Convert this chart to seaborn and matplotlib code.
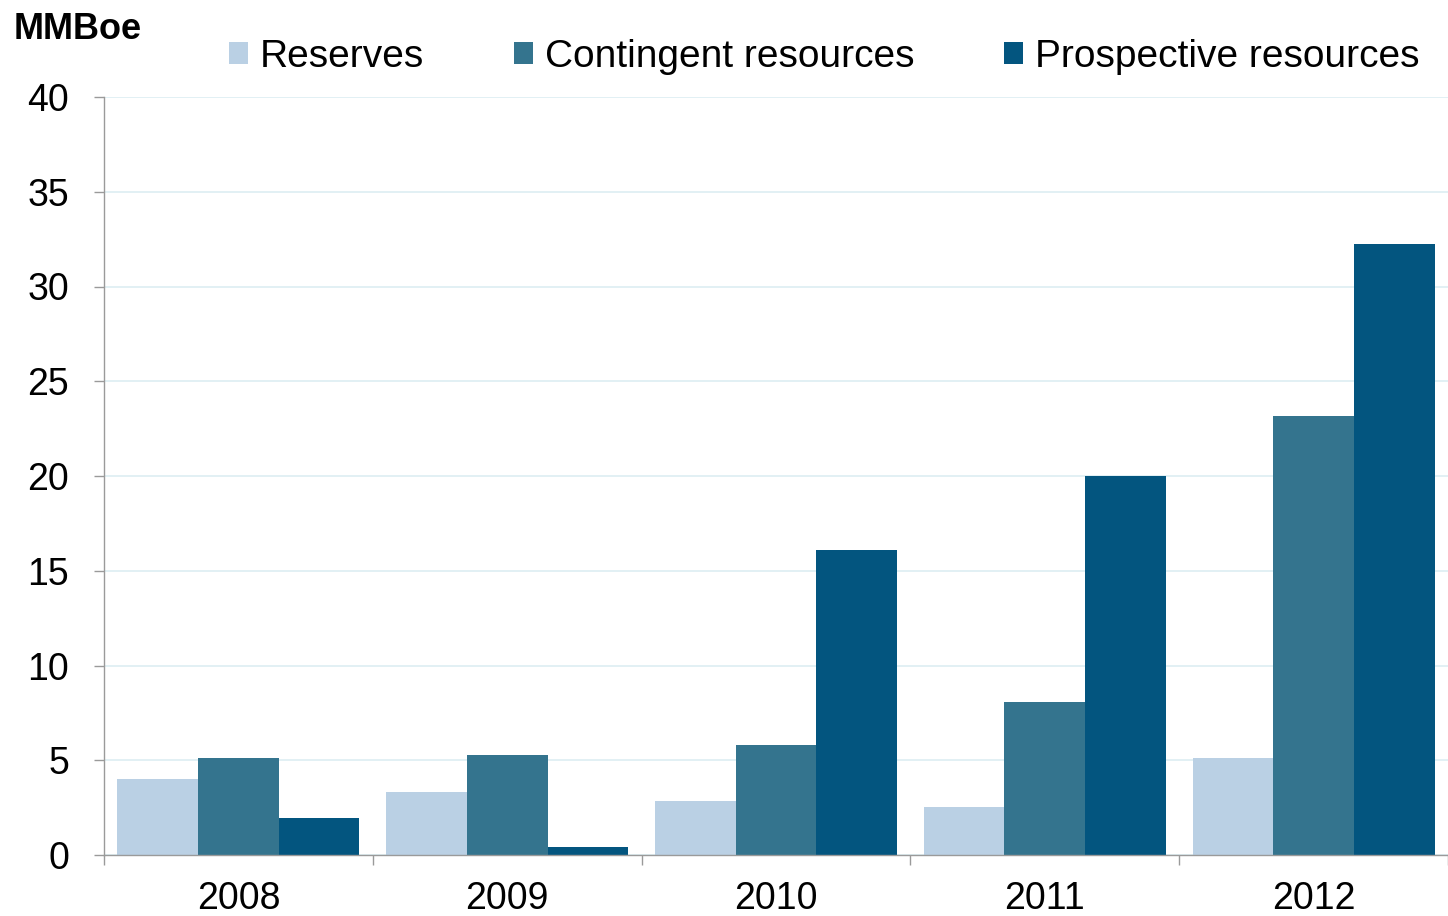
import numpy as np
import pandas as pd
import matplotlib
matplotlib.use("Agg")
import matplotlib.pyplot as plt
import seaborn as sns
from matplotlib.ticker import FixedLocator

# ---- data ----
years = ["2008", "2009", "2010", "2011", "2012"]
series = ["Reserves", "Contingent resources", "Prospective resources"]
reserves = [4.0, 3.35, 2.85, 2.55, 5.1]
contingent = [5.1, 5.3, 5.8, 8.1, 23.15]
prospective = [1.95, 0.4, 16.1, 20.0, 32.25]
colors = ["#BAD0E4", "#34748E", "#03557F"]
yticks = [0, 5, 10, 15, 20, 25, 30, 35, 40]
unit_label = "MMBoe"

df = pd.DataFrame({
    "Year": years * 3,
    "Series": np.repeat(series, len(years)),
    "Value": reserves + contingent + prospective,
})

sns.set_theme(style="white")
plt.rcParams["font.family"] = ["Liberation Sans", "DejaVu Sans"]
plt.rcParams["text.color"] = "black"
plt.rcParams["xtick.color"] = "black"
plt.rcParams["ytick.color"] = "black"

W, H = 1448, 916
fig = plt.figure(figsize=(W / 100, H / 100), dpi=100)
ax = fig.add_axes([104 / W, (H - 855) / H, (W - 104) / W, (855 - 97) / H])

sns.barplot(data=df, x="Year", y="Value", hue="Series", hue_order=series,
            palette=colors, width=0.9, gap=0, linewidth=0, saturation=1,
            ax=ax)

ax.set_xlim(-0.5, len(years) - 0.5)
ax.set_ylim(0, 40)
ax.set_xlabel("")
ax.set_ylabel("")
ax.set_yticks(yticks)
ax.set_yticklabels([str(t) for t in yticks])

ax.yaxis.grid(True, color="#DDEEF2", linewidth=1.2)
ax.xaxis.grid(False)
ax.set_axisbelow(True)

for s in ["top", "right"]:
    ax.spines[s].set_visible(False)
for s in ["left", "bottom"]:
    ax.spines[s].set_color("#9a9a9a")
    ax.spines[s].set_linewidth(1.0)

ax.tick_params(axis="y", which="major", length=7.2, width=1, color="#9a9a9a",
               pad=18, labelsize=27, left=True)
ax.tick_params(axis="x", which="major", length=0, pad=19, labelsize=27)
ax.xaxis.set_minor_locator(FixedLocator(np.arange(-0.5, len(years), 1.0)))
ax.tick_params(axis="x", which="minor", length=7.2, width=1, color="#9a9a9a",
               bottom=True)

handles, labels = ax.get_legend_handles_labels()
if ax.get_legend() is not None:
    ax.get_legend().remove()
fig.legend(handles, labels, loc="center", bbox_to_anchor=(824 / W, 1 - 57 / H),
           ncol=3, frameon=False, fontsize=28, handlelength=0.5,
           handleheight=0.5, handletextpad=0.3, columnspacing=2.3,
           borderaxespad=0, borderpad=0)

fig.text(14 / W, 1 - 39 / H, unit_label, fontweight="bold", fontsize=26,
         ha="left", va="baseline")

fig.savefig("out.png", dpi=100)
